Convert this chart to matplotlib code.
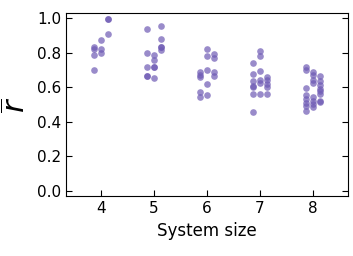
import matplotlib.pyplot as plt
import numpy as np

# system sizes and the three jittered columns of r-bar values per size
sizes = [4, 5, 6, 7, 8]
col_offsets = [-0.14, 0.0, 0.13]

r_left = [
    [0.835, 0.82, 0.785, 0.70],
    [0.936, 0.80, 0.72, 0.665, 0.665],
    [0.688, 0.672, 0.659, 0.572, 0.545],
    [0.742, 0.678, 0.636, 0.608, 0.60, 0.564, 0.455],
    [0.717, 0.703, 0.597, 0.558, 0.53, 0.51, 0.49, 0.465],
]
r_mid = [
    [0.876, 0.82, 0.80],
    [0.785, 0.758, 0.715, 0.715, 0.652],
    [0.822, 0.779, 0.703, 0.62, 0.554],
    [0.812, 0.781, 0.692, 0.642, 0.623, 0.56],
    [0.688, 0.669, 0.643, 0.624, 0.543, 0.523, 0.502, 0.484],
]
r_right = [
    [0.995, 0.995, 0.91],
    [0.956, 0.877, 0.833, 0.833, 0.817],
    [0.79, 0.77, 0.688, 0.663],
    [0.659, 0.64, 0.62, 0.60, 0.56],
    [0.665, 0.638, 0.614, 0.592, 0.578, 0.562, 0.52, 0.513],
]

fig = plt.figure(figsize=(3.53, 2.56), dpi=100)
ax = fig.add_axes([0.187, 0.234, 0.799, 0.715])

color = '#6e5ab4'
for cols, off in zip([r_left, r_mid, r_right], col_offsets):
    for size, vals in zip(sizes, cols):
        ax.scatter([size + off] * len(vals), vals, s=23, color=color,
                   alpha=0.7, linewidths=0)

ax.set_xlim(3.34, 8.66)
ax.set_ylim(-0.03, 1.03)
ax.set_xticks(sizes)
ax.set_yticks([0.0, 0.2, 0.4, 0.6, 0.8, 1.0])
ax.tick_params(direction='in', labelsize=11, length=4)
ax.tick_params(axis='y', right=True)
ax.set_xlabel('System size', fontsize=12)
ax.set_ylabel(r'$\overline{r}$', fontsize=22)

fig.savefig('out.png', dpi=100)
